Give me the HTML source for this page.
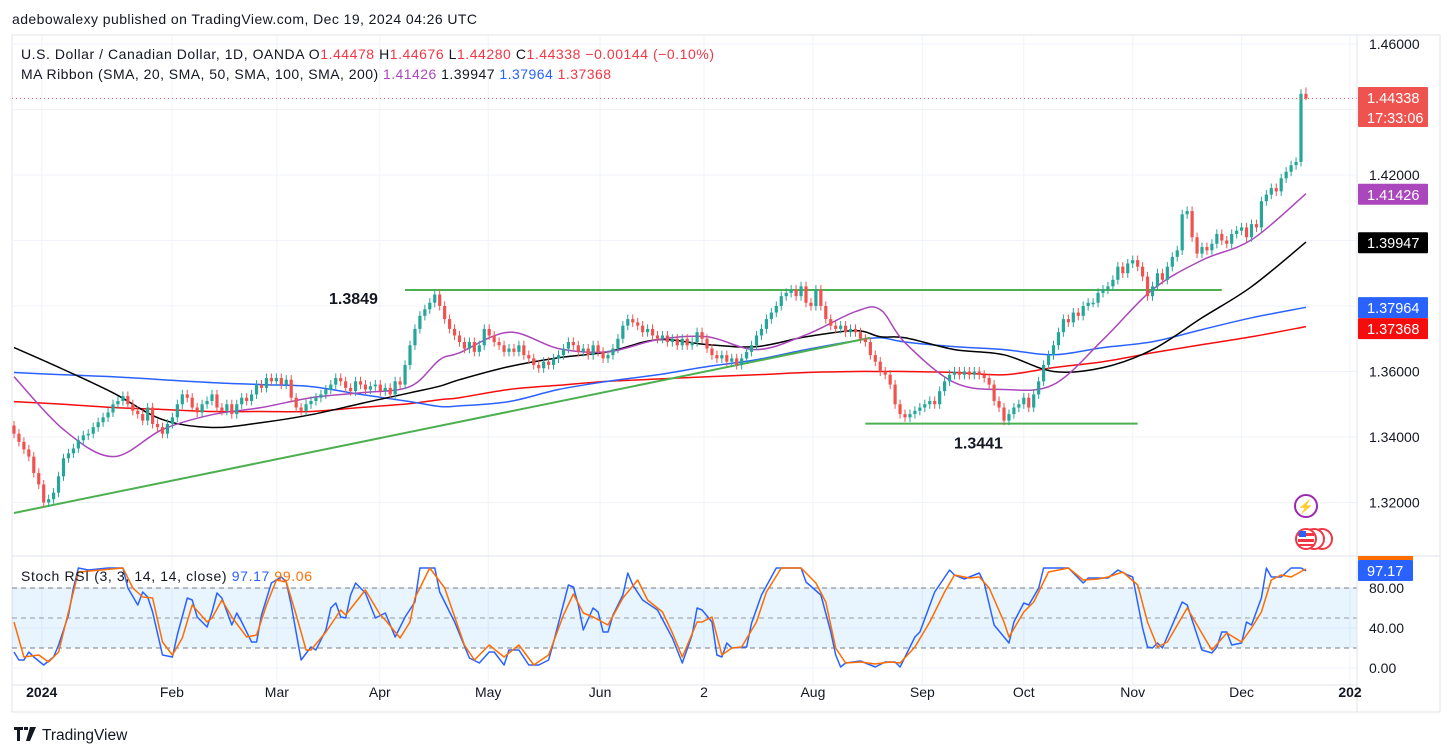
<!DOCTYPE html>
<html><head><meta charset="utf-8">
<style>
html,body{margin:0;padding:0;background:#fff;}
svg{display:block;font-family:"Liberation Sans",sans-serif;}
</style></head>
<body>
<svg id="chart" xmlns="http://www.w3.org/2000/svg" width="1453" height="756" viewBox="0 0 1453 756">
<rect x="0" y="0" width="1453" height="756" fill="#ffffff"/>
<text x="12" y="24" font-size="14" textLength="465" fill="#131722">adebowalexy published on TradingView.com, Dec 19, 2024 04:26 UTC</text>
<rect x="12" y="35" width="1428" height="677" fill="none" stroke="#e0e3eb" stroke-width="1"/>
<g id="grid"></g>
<g id="price"></g>
<g id="stoch"></g>
<line x1="12" y1="556" x2="1440" y2="556" stroke="#e0e3eb"/>
<line x1="1357" y1="35" x2="1357" y2="712" stroke="#e0e3eb"/>
<line x1="12" y1="685" x2="1357" y2="685" stroke="#e0e3eb"/>
<g id="axes"></g>
<text x="21" y="59" font-size="14" textLength="693" fill="#131722">U.S. Dollar / Canadian Dollar, 1D, OANDA  O<tspan fill="#f23645">1.44478</tspan>  H<tspan fill="#f23645">1.44676</tspan>  L<tspan fill="#f23645">1.44280</tspan>  C<tspan fill="#f23645">1.44338</tspan>  <tspan fill="#f23645">−0.00144 (−0.10%)</tspan></text>
<text x="21" y="79" font-size="14" textLength="590" fill="#131722">MA Ribbon (SMA, 20, SMA, 50, SMA, 100, SMA, 200)  <tspan fill="#ab47bc">1.41426</tspan>  <tspan fill="#131722">1.39947</tspan>  <tspan fill="#2962ff">1.37964</tspan>  <tspan fill="#f23645">1.37368</tspan></text>
<text x="21" y="581" font-size="14" textLength="291" fill="#131722">Stoch RSI (3, 3, 14, 14, close)  <tspan fill="#2962ff">97.17</tspan>  <tspan fill="#ff6d00">99.06</tspan></text>
<g>
<circle cx="1306" cy="506" r="11" fill="#fff" stroke="#9c27b0" stroke-width="2"/>
<text x="1306" y="511" font-size="13" fill="#9c27b0" text-anchor="middle">⚡</text>
<circle cx="1322" cy="539" r="10" fill="#fff" stroke="#f23645" stroke-width="2"/>
<circle cx="1314" cy="539" r="10" fill="#fff" stroke="#f23645" stroke-width="2"/>
<circle cx="1306" cy="539" r="10" fill="#fff" stroke="#f23645" stroke-width="2"/>
<rect x="1298" y="533" width="16" height="3" fill="#f23645"/><rect x="1298" y="539" width="16" height="3" fill="#f23645"/><rect x="1298" y="544" width="16" height="2" fill="#f23645"/>
<rect x="1299" y="531" width="7" height="6" fill="#2962ff"/>
</g>
<g>
<path d="M14 727h9v3h-3v11h-3v-11h-3z M24 727h4v3h-4z M30 727h6l-6 14h-4z" fill="#131722"/>
<text x="42" y="740" font-size="15.5" fill="#131722">TradingView</text>
</g>
</svg>
<script>
// ---- data ----
const closes = [1.3410,1.3385,1.3362,1.3340,1.3290,1.3255,1.3200,1.3210,1.3230,1.3280,
1.3335,1.3350,1.3365,1.3390,1.3405,1.3410,1.3430,1.3445,1.3460,1.3475,
1.3500,1.3510,1.3525,1.3500,1.3480,1.3470,1.3450,1.3490,1.3440,1.3430,
1.3410,1.3440,1.3460,1.3500,1.3530,1.3520,1.3490,1.3475,1.3500,1.3510,
1.3530,1.3490,1.3480,1.3500,1.3470,1.3500,1.3520,1.3510,1.3530,1.3560,
1.3550,1.3580,1.3570,1.3580,1.3560,1.3575,1.3520,1.3490,1.3480,1.3500,
1.3510,1.3520,1.3530,1.3545,1.3560,1.3580,1.3570,1.3550,1.3540,1.3570,
1.3560,1.3545,1.3555,1.3560,1.3540,1.3550,1.3530,1.3570,1.3560,1.3620,
1.3680,1.3730,1.3770,1.3790,1.3810,1.3835,1.3800,1.3760,1.3730,1.3710,
1.3690,1.3670,1.3690,1.3660,1.3680,1.3730,1.3710,1.3690,1.3680,1.3660,
1.3670,1.3660,1.3680,1.3650,1.3640,1.3620,1.3610,1.3630,1.3620,1.3640,
1.3650,1.3670,1.3690,1.3680,1.3660,1.3670,1.3650,1.3680,1.3660,1.3640,
1.3650,1.3670,1.3700,1.3740,1.3760,1.3750,1.3740,1.3720,1.3730,1.3710,
1.3700,1.3710,1.3690,1.3700,1.3680,1.3700,1.3680,1.3690,1.3720,1.3700,
1.3670,1.3650,1.3640,1.3650,1.3630,1.3640,1.3620,1.3640,1.3660,1.3680,
1.3710,1.3730,1.3760,1.3780,1.3800,1.3830,1.3840,1.3850,1.3830,1.3860,
1.3810,1.3800,1.3850,1.3800,1.3760,1.3740,1.3730,1.3740,1.3720,1.3730,
1.3720,1.3700,1.3690,1.3650,1.3630,1.3600,1.3590,1.3560,1.3500,1.3470,
1.3460,1.3470,1.3480,1.3490,1.3500,1.3510,1.3500,1.3540,1.3570,1.3590,
1.3600,1.3590,1.3600,1.3590,1.3600,1.3590,1.3580,1.3560,1.3510,1.3490,
1.3450,1.3470,1.3490,1.3500,1.3520,1.3490,1.3530,1.3570,1.3620,1.3650,
1.3680,1.3720,1.3760,1.3750,1.3780,1.3770,1.3800,1.3810,1.3810,1.3840,
1.3850,1.3860,1.3880,1.3920,1.3900,1.3930,1.3940,1.3920,1.3890,1.3830,
1.3860,1.3900,1.3880,1.3920,1.3950,1.3970,1.4080,1.4090,1.4010,1.3960,
1.3980,1.3970,1.3990,1.4020,1.4000,1.3990,1.4020,1.4030,1.4040,1.4010,
1.4050,1.4040,1.4120,1.4140,1.4160,1.4150,1.4190,1.4210,1.4230,1.4240,
1.4448,1.44338];
const firstOpen = 1.3435;
const lastOHLC = [1.44478,1.44676,1.44280,1.44338];

const maIdx = [0,10,20,30,40,50,60,70,80,86,90,100,110,120,130,140,150,160,170,175,180,190,200,210,220,230,240,250,261];
const sma20 = [1.3584,1.3423,1.3340,1.3423,1.3468,1.3490,1.3520,1.3535,1.3554,1.3636,1.3657,1.3720,1.3670,1.3660,1.3697,1.3706,1.3667,1.3712,1.3783,1.3789,1.3688,1.3566,1.3545,1.3560,1.3697,1.3850,1.3940,1.4002,1.4143];
const sma50 = [1.3673,1.3606,1.3535,1.3453,1.3429,1.3444,1.3468,1.3502,1.3535,1.3555,1.3575,1.3615,1.3642,1.3660,1.3697,1.3682,1.3676,1.3706,1.3725,1.3706,1.3703,1.3667,1.3651,1.3600,1.3612,1.3667,1.3764,1.3859,1.3995];
const sma100 = [1.3597,1.3590,1.3584,1.3575,1.3566,1.3560,1.3554,1.3530,1.3508,1.3493,1.3495,1.3508,1.3545,1.3570,1.3590,1.3615,1.3636,1.3667,1.3694,1.3703,1.3690,1.3676,1.3667,1.3651,1.3673,1.3691,1.3728,1.3764,1.3796];
const sma200 = [1.3508,1.3500,1.3490,1.3484,1.3478,1.3478,1.3478,1.3490,1.3502,1.3514,1.3520,1.3545,1.3558,1.3570,1.3577,1.3584,1.3590,1.3597,1.3600,1.3600,1.3600,1.3597,1.3590,1.3612,1.3630,1.3657,1.3682,1.3706,1.3737];

const kIdx = [0,1,2,3,4,6,8,9,11,12,13,15,19,22,23,25,26,27,28,30,32,33,35,36,37,39,40,41,42,44,45,46,48,49,50,52,54,55,56,58,60,61,63,64,65,66,67,68,69,71,73,75,77,79,81,82,85,86,89,92,94,96,97,99,100,102,104,106,108,109,112,113,114,115,117,118,119,120,121,123,124,125,127,130,133,135,137,138,139,141,142,143,144,145,148,149,151,154,159,160,163,165,166,167,168,171,174,176,178,179,182,183,186,189,190,192,195,196,198,201,202,204,205,207,208,213,216,217,221,223,225,226,228,229,230,231,232,236,237,240,242,243,244,245,246,248,249,250,252,253,254,256,258,260,261];
const kVals = [16,8,8,16,11,3,11,23,53,80,100,98,100,100,80,63,76,71,56,13,11,33,70,68,51,41,56,75,70,43,55,46,26,26,53,85,91,86,63,8,21,18,38,60,65,51,50,73,85,75,50,55,31,51,66,100,100,76,46,10,5,16,16,3,18,18,3,3,8,26,83,81,63,38,60,56,36,36,53,73,95,83,68,58,30,5,33,60,58,46,13,11,25,20,21,45,73,100,100,86,73,36,13,1,5,7,1,6,6,1,31,36,76,98,93,89,95,85,43,25,46,65,63,80,100,100,85,90,90,98,93,91,40,21,20,25,20,66,63,18,15,21,36,36,23,25,46,43,70,100,91,91,100,100,97.17];
const dIdx = [0,2,5,7,9,12,13,22,24,26,28,30,32,34,36,39,40,42,44,47,49,51,53,55,57,59,60,63,66,67,71,74,75,78,80,81,84,87,91,93,96,99,102,105,108,111,113,115,117,120,123,126,128,131,133,135,138,139,141,143,145,147,150,152,155,159,162,164,166,168,171,174,177,179,182,185,188,190,193,195,197,200,201,204,206,209,213,216,219,221,224,227,229,231,233,237,241,242,245,248,250,252,254,256,258,261];
const dVals = [46,11,13,6,16,76,96,100,80,71,70,26,13,30,63,46,50,68,51,31,33,63,88,86,53,18,18,36,58,53,78,53,48,30,46,70,100,80,23,8,23,11,23,3,13,53,74,55,51,43,70,88,68,56,35,11,46,46,51,13,20,21,46,76,100,100,85,66,20,5,6,4,6,5,21,46,76,93,90,91,80,46,31,56,66,96,100,88,89,91,96,83,46,21,26,60,26,18,35,26,40,56,88,93,91,99.06];

const monthLabels = ["2024","Feb","Mar","Apr","May","Jun","2","Aug","Sep","Oct","Nov","Dec","202"];
const monthIdx = [5.6,31.9,53.1,73.9,95.8,118.4,139.4,161.4,183.5,204.0,226.0,248,269.9];
const monthBold = [true,false,false,false,false,false,false,false,false,false,false,false,true];
const priceTicks = [1.46,1.42,1.36,1.34,1.32];
const priceGrid = [1.46,1.44,1.42,1.40,1.38,1.36,1.34,1.32];
const stochTicks = [80,40,0];
const trendLine = [[0,1.3168],[173,1.3703]];
const resistance = [[79,1.3849],[244,1.3849]];
const support = [[172,1.3441],[227,1.3441]];
const maBadges = [[1.41426,"#ab47bc","1.41426"],[1.39947,"#000000","1.39947"],[1.37964,"#2962ff","1.37964"],[1.37368,"#f50c0c","1.37368"]];

// ---- scales ----
const NS = "http://www.w3.org/2000/svg";
const xOf = i => 14 + i * 4.95;
const yP = p => 44 + (1.46 - p) / 0.02 * 65.5;
const yS = v => 668 - v;
function mk(tag, attrs, parent) {
  const e = document.createElementNS(NS, tag);
  for (const k in attrs) e.setAttribute(k, attrs[k]);
  parent.appendChild(e);
  return e;
}
const grid = document.getElementById('grid');
const price = document.getElementById('price');
const stoch = document.getElementById('stoch');
const axes = document.getElementById('axes');

monthIdx.forEach((m) => {
  const l = mk('line', {x1: xOf(m), x2: xOf(m), y1: 35, y2: 685, stroke: '#f0f3fa'}, grid);
  
  
});
priceGrid.forEach(p => {
  const l = mk('line', {x1: 12, x2: 1357, y1: yP(p), y2: yP(p), stroke: '#f0f3fa'}, grid);
  
  
});
stochTicks.forEach(v => {
  const l = mk('line', {x1: 12, x2: 1357, y1: yS(v), y2: yS(v), stroke: '#f0f3fa'}, grid);
  
  
});

const band = mk('rect', {x: 12, y: yS(80), width: 1345, height: yS(20) - yS(80), fill: 'rgba(33,150,243,0.1)'}, stoch);


[80, 50, 20].forEach(v => {
  const l = mk('line', {x1: 12, x2: 1357, y1: yS(v), y2: yS(v), stroke: v === 50 ? '#9598a1' : '#787b86', 'stroke-dasharray': '5,4'}, stoch);
  
  
});
function poly(idx, vals, yf, color, w, parent, name) {
  const pts = idx.map((i, k) => xOf(i).toFixed(1) + ',' + yf(vals[k]).toFixed(1)).join(' ');
  const pl = mk('polyline', {points: pts, fill: 'none', stroke: color, 'stroke-width': w, 'stroke-linejoin': 'round'}, parent);
  
  
}
function smooth(idx, vals, yf, color, w, parent, name) {
  const P = idx.map((i, k) => [xOf(i), yf(vals[k])]);
  let d = 'M' + P[0][0].toFixed(1) + ',' + P[0][1].toFixed(1);
  for (let k = 0; k < P.length - 1; k++) {
    const p0 = P[Math.max(0, k - 1)], p1 = P[k], p2 = P[k + 1], p3 = P[Math.min(P.length - 1, k + 2)];
    const c1 = [p1[0] + (p2[0] - p0[0]) / 6, p1[1] + (p2[1] - p0[1]) / 6];
    const c2 = [p2[0] - (p3[0] - p1[0]) / 6, p2[1] - (p3[1] - p1[1]) / 6];
    d += ' C' + c1[0].toFixed(1) + ',' + c1[1].toFixed(1) + ' ' + c2[0].toFixed(1) + ',' + c2[1].toFixed(1) + ' ' + p2[0].toFixed(1) + ',' + p2[1].toFixed(1);
  }
  const pa = mk('path', {d: d, fill: 'none', stroke: color, 'stroke-width': w}, parent);
  
  
}
poly(kIdx, kVals, yS, '#2962ff', 1.5, stoch, 'stoch-k-line');
poly(dIdx, dVals, yS, '#ff6d00', 1.5, stoch, 'stoch-d-line');

smooth(maIdx, sma200, yP, '#f50c0c', 1.5, price, 'sma200-line');
smooth(maIdx, sma100, yP, '#2962ff', 1.5, price, 'sma100-line');
smooth(maIdx, sma50, yP, '#000000', 1.5, price, 'sma50-line');
smooth(maIdx, sma20, yP, '#ab47bc', 1.5, price, 'sma20-line');

[[trendLine, 'trendline-support'], [resistance, 'resistance-line'], [support, 'support-line']].forEach(([t, n]) => {
  const l = mk('line', {x1: xOf(t[0][0]), y1: yP(t[0][1]), x2: xOf(t[1][0]), y2: yP(t[1][1]), stroke: '#4caf50', 'stroke-width': 2}, price);
  
  
});

closes.forEach((c, i) => {
  let o = i === 0 ? firstOpen : closes[i - 1];
  let h = Math.max(o, c) + 0.0014, lo = Math.min(o, c) - 0.0014;
  if (i === closes.length - 1) { o = lastOHLC[0]; h = lastOHLC[1]; lo = lastOHLC[2]; }
  const col = c >= o ? '#26a69a' : '#ef5350';
  const x = xOf(i);
  const w = mk('line', {x1: x, x2: x, y1: yP(h), y2: yP(lo), stroke: col, 'stroke-width': 1}, price);
  
  
  const top = yP(Math.max(o, c)), bh = Math.max(1.5, yP(Math.min(o, c)) - top);
  const b = mk('rect', {x: x - 1.6, y: top, width: 3.2, height: bh, fill: col}, price);
  
  
});

const cp = mk('line', {x1: 12, x2: 1357, y1: yP(lastOHLC[3]), y2: yP(lastOHLC[3]), stroke: '#ef5350', 'stroke-dasharray': '1,3'}, price);



const a1 = mk('text', {x: 329, y: yP(1.3849) + 14, 'font-size': 16, 'font-weight': 'bold', fill: '#131722'}, price);
a1.textContent = '1.3849';


const a2 = mk('text', {x: 954, y: yP(1.3441) + 25, 'font-size': 16, 'font-weight': 'bold', fill: '#131722'}, price);
a2.textContent = '1.3441';



priceTicks.forEach(p => {
  const t = mk('text', {x: 1369, y: yP(p) + 5, 'font-size': 14, fill: '#131722'}, axes);
  t.textContent = p.toFixed(5);
  
  
});
stochTicks.forEach(v => {
  const t = mk('text', {x: 1369, y: yS(v) + 5, 'font-size': 14, fill: '#131722'}, axes);
  t.textContent = v.toFixed(2);
  
  
});
monthLabels.forEach((m, k) => {
  const t = mk('text', {x: xOf(monthIdx[k]), y: 697, 'font-size': 14, fill: '#131722', 'text-anchor': 'middle', 'font-weight': monthBold[k] ? 'bold' : 'normal'}, axes);
  t.textContent = m;
  
  
});

function badge(y, h, color, lines, name, w) {
  const g = mk('g', {}, axes);
  
  
  mk('rect', {x: 1358, y: y, width: w || 70, height: h, fill: color, rx: 1}, g);
  lines.forEach((s, k) => {
    const t = mk('text', {x: 1367, y: y + 16 + k * 20, 'font-size': 14.5, fill: '#fff'}, g);
    t.textContent = s;
  });
}
badge(87, 40, '#ef5350', [lastOHLC[3].toFixed(5), '17:33:06'], 'last-price-badge');
maBadges.forEach(([p, c, s], k) => {
  let y = yP(p) - 10;
  if (k === 3) y = Math.max(y, yP(maBadges[2][0]) + 11);
  badge(y, 21, c, [s], 'ma-badge');
});
const ob = mk('rect', {x: 1358, y: 556, width: 55, height: 4, fill: '#ff6d00'}, axes);


badge(560, 21, '#2962ff', [kVals[kVals.length - 1].toFixed(2)], 'stoch-k-badge', 55);
</script>
</body></html>
